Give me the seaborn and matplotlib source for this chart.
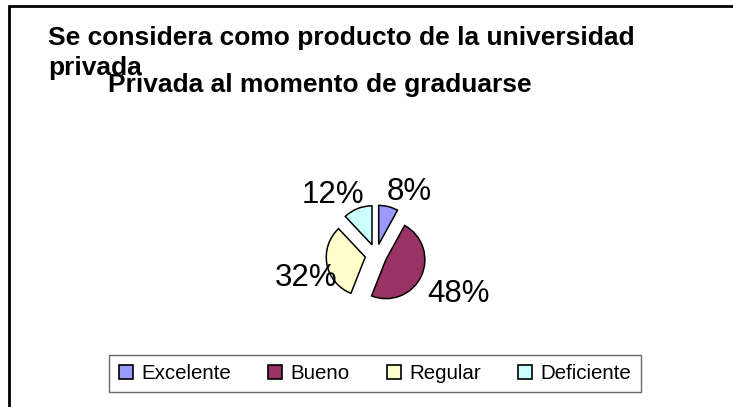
import seaborn as sns
import matplotlib
matplotlib.use("Agg")
import matplotlib.pyplot as plt
from matplotlib.patches import Rectangle

# data
categorias = ["Excelente", "Bueno", "Regular", "Deficiente"]
porcentajes = [8, 48, 32, 12]
colores = ["#9999FF", "#993366", "#FFFFCC", "#CCFFFF"]
titulo_1 = "Se considera como producto de la universidad"
titulo_1b = "privada"
titulo_2 = "Privada al momento de graduarse"
# small nudges of the % labels (points), like Excel's best fit
ajuste_etiquetas = [(10, -10), (8, -3.5), (6, -6), (-10, -9.5)]

sns.set_theme(style="white")
plt.rcParams["font.family"] = ["Liberation Sans", "DejaVu Sans"]
plt.rcParams["text.color"] = "black"

W, H = 733, 407
fig = plt.figure(figsize=(W / 100, H / 100), dpi=100)
fig.patch.set_facecolor("white")

# outer frame (runs past the right and bottom edges)
fig.patches.append(Rectangle((9 / W, -0.1), 1.2, 1 - 6 / H + 0.1, transform=fig.transFigure,
                             fill=False, edgecolor="black", linewidth=2, clip_on=False))

# titles, overlapping like in the original
tkw = dict(fontsize=19, fontweight="bold", va="baseline", ha="left", color="black")
fig.text(48 / W, 1 - 45 / H, titulo_1, **tkw)
fig.text(48 / W, 1 - 75 / H, titulo_1b, **tkw)
fig.text(108 / W, 1 - 92 / H, titulo_2, **tkw)

# pie: center ~ (376, 255) px, radius ~ 39 px
cx, cy, R = 376, 255, 39
half = 100
ax = fig.add_axes([(cx - half) / W, (H - cy - half) / H, 2 * half / W, 2 * half / H])
pal = sns.color_palette(colores)
wedges, texts, autotexts = ax.pie(
    porcentajes, colors=pal, startangle=90, counterclock=False,
    explode=[0.28] * 4, radius=1,
    autopct=lambda p: f"{p:.0f}%", pctdistance=1.75,
    wedgeprops=dict(edgecolor="black", linewidth=1.1),
    textprops=dict(fontsize=22.5, color="black"))
for t, (dx, dy) in zip(autotexts, ajuste_etiquetas):
    x, y = t.get_position()
    ax.annotate(t.get_text(), (x, y), xytext=(dx, dy), textcoords="offset points",
                ha="center", va="center", fontsize=22.5, color="black")
    t.set_visible(False)
lim = half / R
ax.set_xlim(-lim, lim)
ax.set_ylim(-lim, lim)
ax.set_aspect("equal")
ax.axis("off")

# legend
handles = [Rectangle((0, 0), 1, 1, facecolor=c, edgecolor="black", linewidth=1.2) for c in pal]
leg = fig.legend(handles, categorias, loc="center", bbox_to_anchor=(375 / W, 1 - 373.5 / H),
                 ncol=4, fontsize=14.8, frameon=True, fancybox=False, edgecolor="#444444",
                 handlelength=0.7, handleheight=0.7, handletextpad=0.4, columnspacing=1.8,
                 borderpad=0.45, borderaxespad=0)
leg.get_frame().set_linewidth(1)
for txt in leg.get_texts():
    txt.set_color("black")

fig.savefig("out.png", dpi=100)
